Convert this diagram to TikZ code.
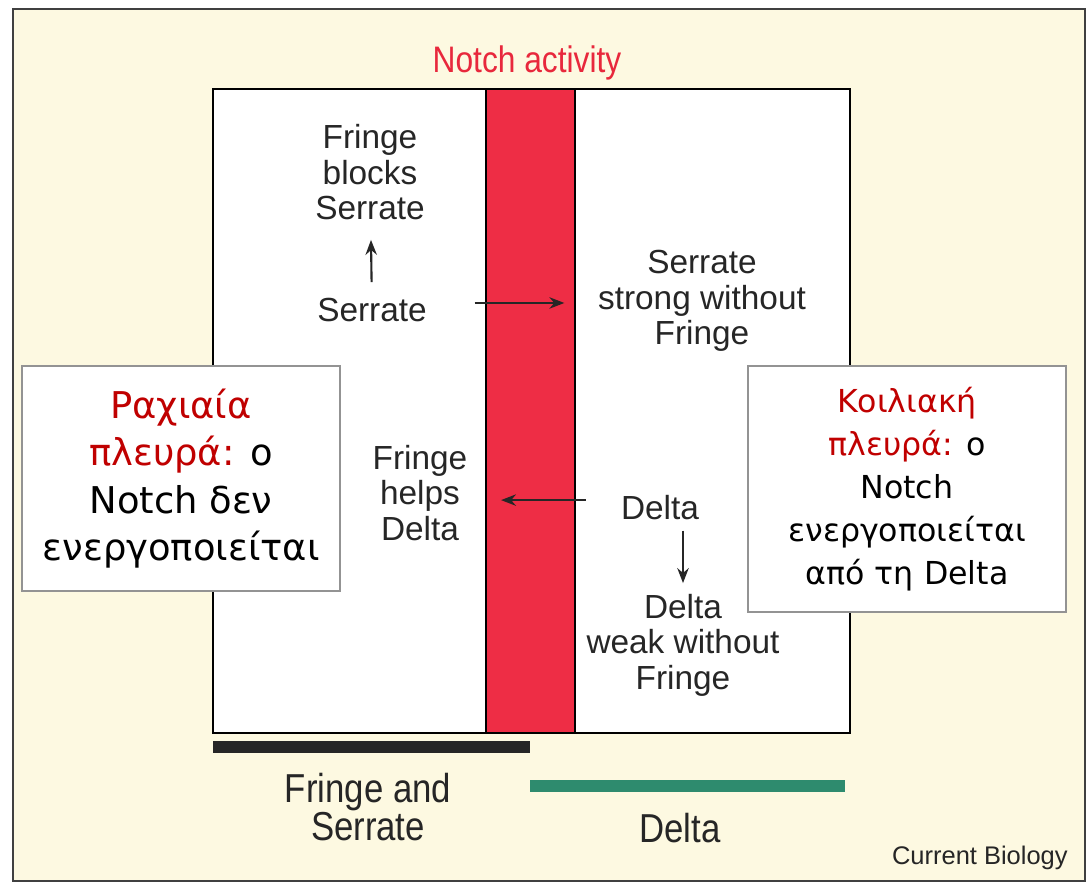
\documentclass[tikz,border=0pt]{standalone}
\usepackage{fontspec}
\setmainfont{Liberation Sans}
\newfontfamily\narrowfont[FakeStretch=0.86]{Liberation Sans}
\newfontfamily\greekfont{DejaVu Sans}
\usepackage{tikz}
\usetikzlibrary{arrows.meta}
\usetikzlibrary{positioning}
\definecolor{paper}{HTML}{FDF9E1}
\definecolor{notchred}{HTML}{EE2D45}
\definecolor{titlered}{HTML}{E8283C}
\definecolor{greekred}{HTML}{C00000}
\definecolor{deltagreen}{HTML}{2E8B6E}
\definecolor{ink}{HTML}{262626}
\newcommand{\redword}[1]{\textcolor{greekred}{#1}}
\tikzset{
    figtext/.style={
           align=center,
           inner sep=0pt,
           text=ink,
           font=\fontsize{19}{20.2}\selectfont,
           },
    legend/.style={
           align=center,
           inner sep=0pt,
           text=ink,
           font=\narrowfont\fontsize{23}{20.2}\selectfont,
           },
    notebox/.style={
           rectangle,
           draw=gray!85, line width=1.1pt,
           fill=white,
           align=center,
           text centered,
           },
    signal/.style={
           ->, line width=1.2pt, draw=ink,
           },
}

\begin{document}
\begin{tikzpicture}[x=0.02cm,y=-0.02cm,>={Stealth[length=8.5pt,width=6.5pt]}]
 \fill[white] (0,0) rectangle (1089,883);
 \useasboundingbox (0,0) rectangle (1089,883);
 % page and panel
 \draw[line width=1.6pt, draw=black!75, fill=paper] (13,9) rectangle (1085,881);
 \draw[line width=1.2pt, fill=white] (213,89) rectangle (850,733);
 \draw[line width=0.8pt, fill=notchred] (486,89) rectangle (575,733);
 \node[text=titlered, inner sep=0pt,
 font=\narrowfont\fontsize{21}{22}\selectfont] (title) at (527,63) {Notch activity};

 % expression bars
 \fill[black!85] (213,741) rectangle (530,753);
 \fill[deltagreen] (530,780) rectangle (845,792);

 % dorsal side
 \node[figtext] (blocks) at (370,172.5) {Fringe\\blocks\\Serrate};
 \node[figtext] (srt) at (372,310) {Serrate};
 \node[figtext] (helps) at (420,493) {Fringe\\helps\\Delta};

 % ventral side
 \node[figtext] (strong) at (702,301) {Serrate\\strong without\\Fringe};
 \node[figtext] (delta) at (660,508) {Delta};
 \node[figtext] (weak) at (683,645) {Delta\\weak without\\Fringe};

 \draw[signal, shorten <=9pt, shorten >=11pt] (srt) -- (blocks);
 \draw[signal, shorten <=27pt, shorten >=19pt]
  ([yshift=4pt]srt.east) -- ([yshift=4pt]srt.east -| strong.west);
 \draw[signal, shorten <=20pt, shorten >=19pt]
  ([yshift=4.5pt]delta.west) -- ([yshift=4.5pt]delta.west -| helps.east);
 \draw[signal, shorten <=5.7pt, shorten >=6pt]
  (delta.south -| weak.north) -- (weak.north);

 \node[legend] (fs) at (368,807) {Fringe and\\Serrate};
 \node[legend] (dl) at (680,828) {Delta};
 \node[text=ink, inner sep=0pt, anchor=east,
 font=\fontsize{14.5}{15}\selectfont] (cb) at (1068,858) {Current Biology};

 % notes
 \node[notebox,
 minimum width=6.36cm, minimum height=4.5cm,
 font=\greekfont\fontsize{21}{27}\selectfont] (dorsal) at (181,478.5)
 {\redword{Ραχιαία}\\\redword{πλευρά:} ο\\Notch δεν\\ενεργοποιείται};
 \node[notebox,
 minimum width=6.36cm, minimum height=4.92cm,
 font=\greekfont\fontsize{18}{24.5}\selectfont] (ventral) at (907,489)
 {\redword{Κοιλιακή}\\\redword{πλευρά:} ο\\Notch\\ενεργοποιείται\\από τη Delta};
\end{tikzpicture}
\end{document}
